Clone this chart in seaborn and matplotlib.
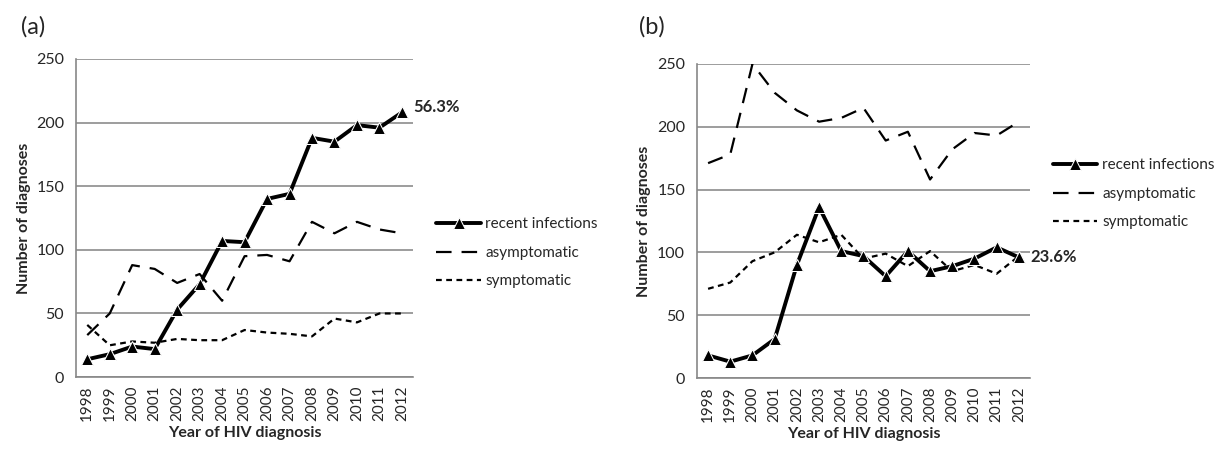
import pandas as pd
import matplotlib.pyplot as plt
import seaborn as sns
import numpy as np

# Years of HIV diagnosis
years = [str(y) for y in range(1998, 2013)]

# Panel (a) counts
recent_a = [14, 18, 24, 22, 53, 73, 107, 106, 140, 144, 188, 185, 198, 196, 208]
asympt_a = [33, 50, 88, 85, 74, 81, 60, 95, 96, 91, 122, 113, 122, 116, 113]
sympt_a = [41, 25, 28, 27, 30, 29, 29, 37, 35, 34, 32, 46, 43, 50, 50]

# Panel (b) counts
recent_b = [18, 13, 18, 31, 90, 136, 101, 97, 81, 101, 85, 89, 95, 104, 96]
asympt_b = [171, 178, 250, 227, 213, 204, 207, 215, 189, 196, 158, 182, 195, 193, 204]
sympt_b = [71, 76, 93, 100, 114, 108, 114, 95, 99, 89, 101, 85, 90, 83, 97]

# Percent label at the end of the recent series
pct_a = '56.3%'
pct_b = '23.6%'

sns.set_style('white')
plt.rcParams['font.family'] = ['Lato', 'DejaVu Sans']

fig = plt.figure(figsize=(12.26, 4.5), dpi=100)
ax_a = fig.add_axes([0.062, 0.162, 0.275, 0.707])
ax_b = fig.add_axes([0.5685, 0.160, 0.2716, 0.698])

pos = np.arange(len(years))


def draw_panel(ax, recent, asympt, sympt, pct, pct_dy, leg_xy, letter, letter_x):
    df = pd.DataFrame({'pos': pos, 'recent': recent, 'asympt': asympt, 'sympt': sympt})

    sns.lineplot(data=df, x='pos', y='asympt', ax=ax, color='black', lw=1.6,
                 label='asymptomatic')
    sns.lineplot(data=df, x='pos', y='sympt', ax=ax, color='black', lw=1.6,
                 label='symptomatic')
    sns.lineplot(data=df, x='pos', y='recent', ax=ax, color='black', lw=2.8,
                 marker='^', markersize=8, label='recent infections')
    lines = ax.get_lines()
    lines[0].set_dashes([7, 4.5])
    lines[1].set_dashes([2.6, 2])

    # Excel-like axes
    ax.set_ylim(0, 250)
    ax.set_yticks(range(0, 251, 50))
    ax.set_xlim(-0.5, len(years) - 0.5)
    ax.set_xticks(pos)
    ax.set_xticklabels(years, rotation=90, fontsize=11)
    ax.set_xticks(np.arange(-0.5, len(years), 1.0), minor=True)
    ax.tick_params(axis='x', which='major', length=0, pad=6)
    ax.tick_params(axis='x', which='minor', length=5, width=1, color='#888888', direction='out')
    ax.tick_params(axis='y', length=5, width=1, color='#888888', direction='out', labelsize=11.5)
    ax.yaxis.grid(True, color='#8c8c8c', lw=1.2)
    ax.set_axisbelow(True)
    for s in ['top', 'right']:
        ax.spines[s].set_visible(False)
    for s in ['left', 'bottom']:
        ax.spines[s].set_color('#888888')
        ax.spines[s].set_linewidth(1.2)

    ax.set_xlabel('Year of HIV diagnosis', fontsize=11.5, fontweight='bold')
    ax.set_ylabel('Number of diagnoses', fontsize=11.5, fontweight='bold')

    ax.annotate(pct, xy=(pos[-1], recent[-1]), xytext=(8, pct_dy), textcoords='offset points',
                fontsize=12, fontweight='bold', va='center', ha='left')

    handles, labels = ax.get_legend_handles_labels()
    order = [2, 0, 1]
    ax.legend([handles[i] for i in order], [labels[i] for i in order],
              loc='center left', bbox_to_anchor=leg_xy, bbox_transform=fig.transFigure,
              frameon=False, fontsize=11, handlelength=2.9, handletextpad=0.3,
              labelspacing=0.95, borderaxespad=0, borderpad=0)

    fig.text(letter_x, 0.94, letter, fontsize=17, va='center', ha='left')


draw_panel(ax_a, recent_a, asympt_a, sympt_a, pct_a, 4, (0.356, 0.438), '(a)', 0.017)
draw_panel(ax_b, recent_b, asympt_b, sympt_b, pct_b, 0, (0.859, 0.569), '(b)', 0.521)

fig.savefig('out.png', dpi=100)
